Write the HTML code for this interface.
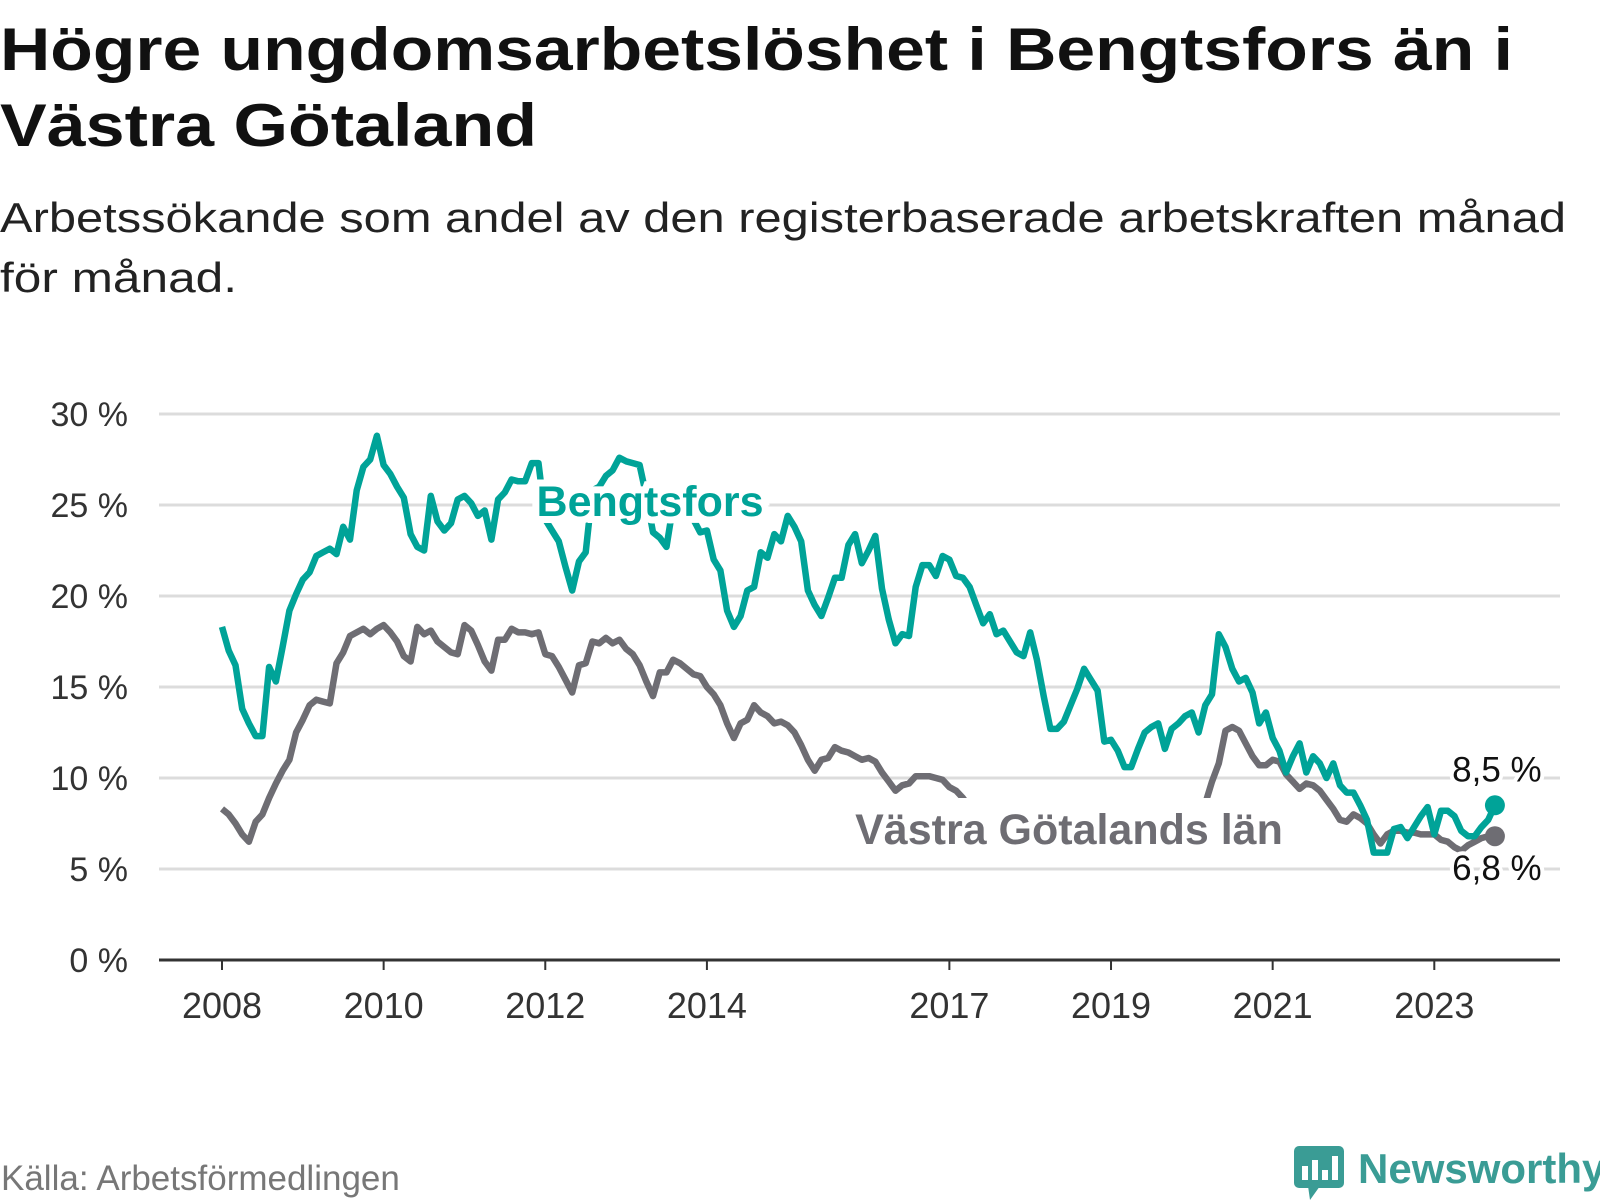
<!DOCTYPE html>
<html><head><meta charset="utf-8">
<style>
body{margin:0;background:#fff;width:1600px;height:1200px;overflow:hidden;font-family:"Liberation Sans",sans-serif;}
svg{display:block}
</style></head>
<body>
<svg width="1600" height="1200" id="chart">
<text x="0" y="70" font-size="60" font-weight="bold" fill="#111" textLength="1513" lengthAdjust="spacingAndGlyphs">Högre ungdomsarbetslöshet i Bengtsfors än i</text>
<text x="0" y="146" font-size="60" font-weight="bold" fill="#111" textLength="537" lengthAdjust="spacingAndGlyphs">Västra Götaland</text>
<text x="0" y="232" font-size="42" fill="#222" textLength="1566" lengthAdjust="spacingAndGlyphs">Arbetssökande som andel av den registerbaserade arbetskraften månad</text>
<text x="0" y="292" font-size="42" fill="#222" textLength="237" lengthAdjust="spacingAndGlyphs">för månad.</text>
<g id="grid"></g>
<g id="series"></g>
<text x="1" y="1190" font-size="35" fill="#777">Källa: Arbetsförmedlingen</text>
<g>
<rect x="1294" y="1146" width="50" height="42" rx="5" fill="#3a9c95"/>
<polygon points="1308,1186 1320,1186 1310,1200" fill="#3a9c95"/>
<rect x="1302" y="1166" width="6" height="14" fill="#fff"/>
<rect x="1312" y="1160" width="6" height="20" fill="#fff"/>
<rect x="1322" y="1170" width="6" height="10" fill="#fff"/>
<rect x="1332" y="1156" width="6" height="24" fill="#fff"/>
<text x="1358" y="1183" font-size="42" font-weight="bold" fill="#3a9c95">Newsworthy</text>
</g>
</svg>
<script>
const yTicks=[0,5,10,15,20,25,30];
const yTickLabels=["0 %","5 %","10 %","15 %","20 %","25 %","30 %"];
const xTickYears=[2008,2010,2012,2014,2017,2019,2021,2023];
const startYear=2008;
const bengtsfors=[18.3,17,16.2,13.8,13,12.3,12.3,16.1,15.3,17.2,19.2,20.1,
20.9,21.3,22.2,22.4,22.6,22.3,23.8,23.1,25.8,27.1,27.5,28.8,
27.2,26.7,26.0,25.4,23.4,22.7,22.5,25.5,24.1,23.6,24.0,25.3,
25.5,25.1,24.4,24.7,23.1,25.3,25.7,26.4,26.3,26.3,27.3,27.3,
24.2,23.6,23.0,21.6,20.3,21.9,22.4,25.8,26.0,26.6,26.9,27.6,
27.4,27.3,27.2,25.5,23.5,23.2,22.7,25.0,25.5,25.0,24.2,23.5,
23.6,22.0,21.4,19.2,18.3,18.9,20.3,20.5,22.4,22.1,23.4,23.0,
24.4,23.8,23.0,20.3,19.5,18.9,19.9,21.0,21.0,22.8,23.4,21.8,
22.5,23.3,20.4,18.7,17.4,17.9,17.8,20.5,21.7,21.7,21.1,22.2,
22.0,21.1,21.0,20.5,19.5,18.5,19.0,17.9,18.1,17.5,16.9,16.7,
18.0,16.5,14.5,12.7,12.7,13.1,14.0,14.9,16.0,15.4,14.8,12.0,
12.1,11.5,10.6,10.6,11.6,12.5,12.8,13.0,11.6,12.7,13.0,13.4,
13.6,12.5,14.0,14.6,17.9,17.2,16.0,15.3,15.5,14.7,13.0,13.6,
12.2,11.5,10.3,11.2,11.9,10.3,11.2,10.8,10.0,10.8,9.6,9.2,
9.2,8.5,7.7,5.9,5.9,5.9,7.2,7.3,6.7,7.3,7.9,8.4,
6.9,8.2,8.2,7.9,7.1,6.8,6.8,7.3,7.7,8.5];
const vastraGotaland=[8.3,8.0,7.5,6.9,6.5,7.6,8.0,8.9,9.7,10.4,11.0,12.5,
13.2,14.0,14.3,14.2,14.1,16.3,16.9,17.8,18.0,18.2,17.9,18.2,
18.4,18.0,17.5,16.7,16.4,18.3,17.9,18.1,17.5,17.2,16.9,16.8,
18.4,18.1,17.3,16.4,15.9,17.6,17.6,18.2,18.0,18.0,17.9,18.0,
16.8,16.7,16.1,15.4,14.7,16.2,16.3,17.5,17.4,17.7,17.4,17.6,
17.1,16.8,16.2,15.3,14.5,15.8,15.8,16.5,16.3,16.0,15.7,15.6,
15.0,14.6,14.0,13.0,12.2,13.0,13.2,14.0,13.6,13.4,13.0,13.1,
12.9,12.5,11.8,11.0,10.4,11.0,11.1,11.7,11.5,11.4,11.2,11.0,
11.1,10.9,10.3,9.8,9.3,9.6,9.7,10.1,10.1,10.1,10.0,9.9,
9.5,9.3,8.9,8.4,7.9,8.0,8.2,8.5,8.3,8.0,7.9,8.1,
8.3,8.4,8.2,7.9,7.6,7.8,7.9,8.0,7.9,7.8,7.7,7.6,
7.7,7.6,7.4,7.2,7.0,7.3,7.5,7.7,7.6,7.7,7.6,7.8,
8.1,8.3,8.6,9.8,10.8,12.6,12.8,12.6,11.9,11.2,10.7,10.7,
11.0,10.9,10.2,9.8,9.4,9.7,9.6,9.3,8.8,8.3,7.7,7.6,
8.0,7.8,7.5,6.9,6.4,6.9,7.1,7.1,7.0,7.0,6.9,6.9,
6.9,6.6,6.5,6.2,6.0,6.3,6.5,6.7,6.8,6.8];

const NS="http://www.w3.org/2000/svg";
const X0=222, MW=6.735, Y0=960, PY=18.2, XL=159, XR=1560;
function xs(i){return X0+i*MW;}
function ys(v){return Y0-v*PY;}
function mk(tag,attrs,parent){const e=document.createElementNS(NS,tag);for(const k in attrs)e.setAttribute(k,attrs[k]);parent.appendChild(e);return e;}
const grid=document.getElementById('grid'), ser=document.getElementById('series');
yTicks.forEach((t,i)=>{
  if(t>0){const l=mk('line',{x1:XL,x2:XR,y1:ys(t),y2:ys(t),stroke:'#dcdcdc','stroke-width':3},grid);
  
  }
  const tx=mk('text',{x:128,y:ys(t)+12,'font-size':34,'text-anchor':'end',fill:'#333'},grid);
  tx.textContent=yTickLabels[i];
  
  
});
const ax=mk('line',{x1:XL,x2:XR,y1:Y0,y2:Y0,stroke:'#333','stroke-width':3},grid);


xTickYears.forEach(yr=>{
  const x=xs((yr-startYear)*12);
  const tk=mk('line',{x1:x,x2:x,y1:Y0,y2:Y0+10,stroke:'#333','stroke-width':2},grid);
  
  
  const tx=mk('text',{x:x,y:1018,'font-size':36,'text-anchor':'middle',fill:'#333'},grid);
  tx.textContent=yr;
  
  
});
function path(arr){return arr.map((v,i)=>(i?'L':'M')+xs(i).toFixed(1)+','+ys(v).toFixed(1)).join('');}
const pg=mk('path',{d:path(vastraGotaland),fill:'none',stroke:'#6e6d73','stroke-width':6.5,'stroke-linejoin':'round'},ser);


const pb=mk('path',{d:path(bengtsfors),fill:'none',stroke:'#00a398','stroke-width':6.5,'stroke-linejoin':'round'},ser);


const nB=bengtsfors.length-1, nG=vastraGotaland.length-1;
const dg=mk('circle',{cx:xs(nG),cy:ys(vastraGotaland[nG]),r:10,fill:'#6e6d73'},ser);


const db=mk('circle',{cx:xs(nB),cy:ys(bengtsfors[nB]),r:10,fill:'#00a398'},ser);


function lbl(x,y,txt,size,weight,fill,name,bg){
  const t=mk('text',{x:x,y:y,'font-size':size,'font-weight':weight,fill:fill,'text-anchor':'middle'},ser);
  t.textContent=txt;
  if(bg){t.setAttribute('stroke','#fff');t.setAttribute('stroke-width',bg);t.setAttribute('paint-order','stroke');}
  
  
}
lbl(xs(nB)+2,ys(bengtsfors[nB])-24,bengtsfors[nB].toFixed(1).replace('.',',')+' %',35,'normal','#111','bengtsfors-end-label',8);
lbl(xs(nG)+2,ys(vastraGotaland[nG])+44,vastraGotaland[nG].toFixed(1).replace('.',',')+' %',35,'normal','#111','vastra-gotaland-end-label',8);
const bgRect=mk('rect',{x:846,y:798,width:446,height:56,fill:'#fff'},ser);


lbl(1069,844,'Västra Götalands län',43,'bold','#6e6d73','vastra-gotaland-series-label',0);
lbl(650,516,'Bengtsfors',43,'bold','#00a398','bengtsfors-series-label',14);
</script>
</body></html>
